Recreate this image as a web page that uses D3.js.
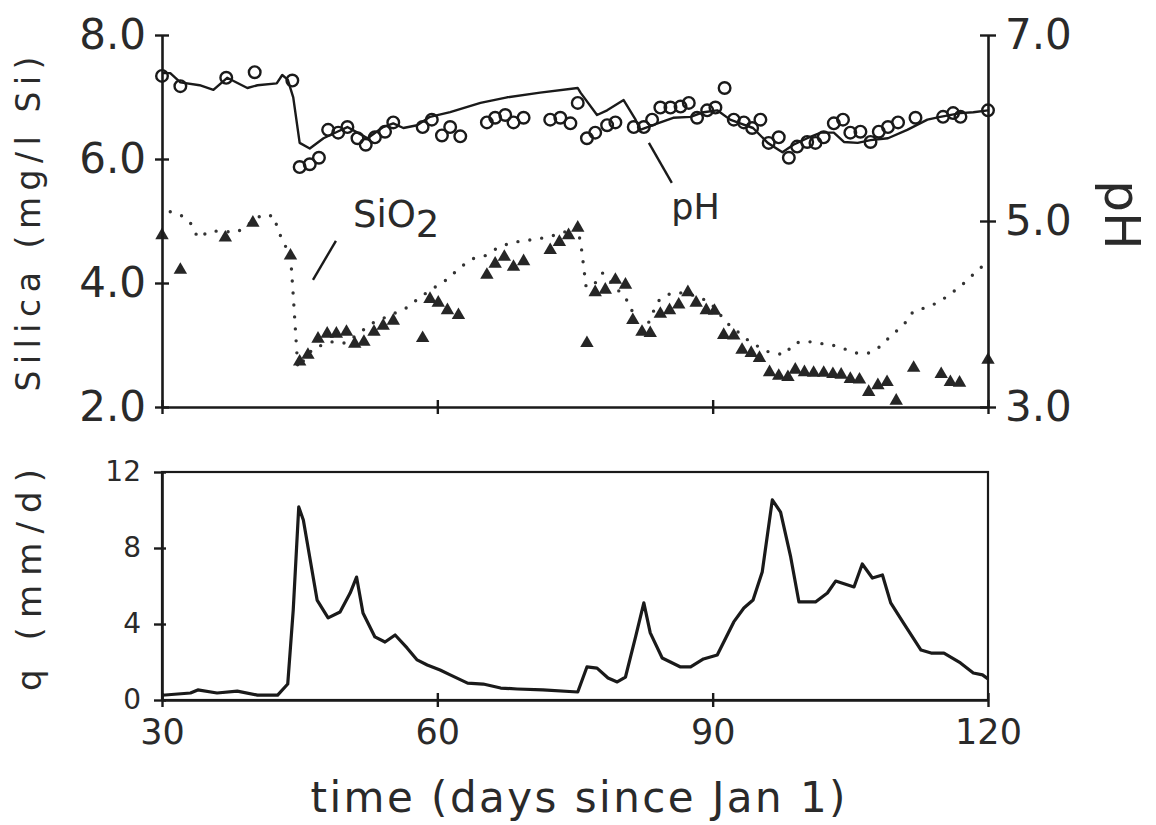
<!DOCTYPE html>
<html lang="en">

<head>
  <title>Silica, pH and discharge</title>
  <meta charset="UTF-8">
  <script src="https://cdn.jsdelivr.net/npm/d3@7"></script>
  <style>
    body { margin: 0; background: #fff; }
    text { font-family: 'DejaVu Sans', sans-serif; fill: #2a2a2a; }
  </style>
</head>

<body>
  <div id="box"></div>
  <script>
    const width = 1156
    const height = 825

    // tick labels
    const dayTicks = [30, 60, 90, 120]
    const siTicks = [2, 4, 6, 8]
    const phTicks = [3, 5, 7]
    const qTicks = [0, 4, 8, 12]

    // pH, model (solid line)
    const phModelDays = [30, 30.9, 32.0, 34.1, 35.6, 37.1, 39.3, 40.4, 42.5, 43.1,
      43.7, 44.3, 45.0, 46.1, 47.6, 49.1, 50.2, 51.3, 52.4, 54.1,
      55.2, 56.3, 57.8, 59.2, 61.4, 64.7, 67.6, 71.2, 75.3, 75.6,
      77.4, 78.5, 80.3, 81.6, 82.1, 84.0, 85.7, 87.6, 89.0, 90.5,
      91.9, 93.0, 94.4, 96.0, 97.6, 98.8, 100.3, 101.8, 103.2, 104.3,
      105.8, 107.2, 109.1, 111.2, 113.4, 114.8, 117.0, 118.4, 120]
    const phModel = [6.59, 6.59, 6.49, 6.46, 6.41, 6.54, 6.43, 6.46, 6.48, 6.57,
      6.52, 6.33, 5.84, 5.78, 5.89, 5.96, 6.01, 5.95, 5.89, 6.01,
      6.05, 6.00, 6.03, 6.12, 6.17, 6.27, 6.33, 6.38, 6.43, 6.38,
      6.14, 6.19, 6.30, 6.09, 5.98, 6.05, 6.11, 6.12, 6.17, 6.19,
      6.09, 6.05, 6.00, 5.84, 5.74, 5.82, 5.89, 5.95, 5.95, 5.85,
      5.84, 5.87, 5.89, 5.98, 6.09, 6.12, 6.16, 6.17, 6.19]

    // pH, measured (circles)
    const phObsDays = [30.0, 32.0, 37.0, 40.1, 44.2, 45.0, 46.1, 47.1, 48.1, 49.2,
      50.2, 51.3, 52.2, 53.2, 54.3, 55.2, 58.4, 59.4, 60.5, 61.4,
      62.5, 65.4, 66.3, 67.4, 68.3, 69.4, 72.3, 73.4, 74.5, 75.3,
      76.3, 77.2, 78.5, 79.4, 81.4, 82.5, 83.4, 84.3, 85.4, 86.5,
      87.4, 88.3, 89.4, 90.3, 91.3, 92.3, 93.4, 94.3, 95.2, 96.1,
      97.2, 98.3, 99.2, 100.3, 101.2, 102.1, 103.2, 104.2, 105.0, 106.1,
      107.2, 108.1, 109.1, 110.2, 112.1, 115.1, 116.2, 117.0, 120.0]
    const phObs = [6.56, 6.45, 6.54, 6.60, 6.51, 5.58, 5.61, 5.68, 5.98, 5.95,
      6.01, 5.89, 5.82, 5.90, 5.96, 6.06, 6.01, 6.09, 5.92, 6.01,
      5.91, 6.06, 6.11, 6.14, 6.06, 6.11, 6.09, 6.11, 6.05, 6.27,
      5.89, 5.95, 6.03, 6.06, 6.01, 6.01, 6.09, 6.22, 6.22, 6.23,
      6.27, 6.11, 6.19, 6.22, 6.43, 6.09, 6.06, 6.00, 6.09, 5.84,
      5.90, 5.68, 5.80, 5.85, 5.84, 5.90, 6.05, 6.09, 5.95, 5.96,
      5.85, 5.96, 6.01, 6.06, 6.11, 6.12, 6.16, 6.12, 6.19]

    // silica, model (dotted line)
    const siModelDays = [30.9, 32.2, 33.2, 33.9, 35.3, 38.2, 40.9, 42.2, 42.6, 43.2,
      44.0, 44.3, 44.8, 46.5, 48.5, 50.0, 52.9, 56.8, 58.1, 59.6,
      61.1, 62.4, 63.8, 65.2, 66.5, 68.0, 69.4, 70.8, 72.1, 75.3,
      75.7, 76.2, 76.9, 78.0, 79.2, 80.9, 82.3, 83.4, 84.2, 85.5,
      86.8, 88.2, 89.7, 91.6, 94.0, 95.8, 97.8, 98.9, 100.2, 101.5,
      103.0, 104.3, 105.7, 107.0, 108.3, 109.5, 110.8, 111.8, 113.1, 114.5,
      115.9, 117.4, 118.7, 120.0]
    const siModel = [5.15, 5.08, 4.95, 4.73, 4.84, 4.82, 5.10, 5.08, 4.87, 4.66,
      4.45, 3.80, 2.63, 2.95, 3.05, 3.03, 3.35, 3.61, 3.77, 3.92,
      4.06, 4.24, 4.39, 4.44, 4.56, 4.65, 4.68, 4.71, 4.74, 4.89,
      4.56, 3.95, 3.94, 4.16, 3.97, 3.68, 3.10, 3.50, 3.73, 3.84,
      3.84, 3.79, 3.69, 3.35, 3.06, 2.90, 2.84, 3.03, 3.06, 3.03,
      3.00, 2.94, 2.87, 2.87, 2.98, 3.16, 3.32, 3.53, 3.60, 3.68,
      3.82, 4.00, 4.18, 4.35]

    // silica, measured (triangles)
    const siObsDays = [30.0, 32.0, 36.9, 39.9, 44.0, 45.0, 45.9, 47.0, 48.0, 49.0,
      50.1, 51.0, 52.0, 53.1, 54.1, 55.2, 58.4, 59.2, 60.1, 61.1,
      62.3, 65.4, 66.3, 67.3, 68.3, 69.4, 72.3, 73.3, 74.3, 75.3,
      76.3, 77.2, 78.3, 79.4, 80.5, 81.3, 82.3, 83.2, 84.3, 85.3,
      86.3, 87.3, 88.2, 89.3, 90.2, 91.2, 92.3, 93.2, 94.2, 95.1,
      96.2, 97.2, 98.2, 99.0, 100.0, 101.0, 102.1, 103.1, 104.0, 105.0,
      106.0, 107.0, 108.0, 109.0, 110.0, 111.9, 114.9, 115.9, 116.9, 120.0]
    const siObs = [4.77, 4.21, 4.73, 4.97, 4.44, 2.73, 2.84, 3.10, 3.18, 3.18,
      3.21, 3.02, 3.05, 3.21, 3.31, 3.39, 3.11, 3.74, 3.68, 3.56,
      3.48, 4.13, 4.31, 4.42, 4.26, 4.35, 4.53, 4.66, 4.77, 4.89,
      3.03, 3.85, 3.89, 4.05, 3.97, 3.40, 3.21, 3.19, 3.50, 3.56,
      3.65, 3.85, 3.68, 3.56, 3.55, 3.16, 3.15, 2.92, 2.87, 2.79,
      2.56, 2.50, 2.48, 2.60, 2.56, 2.55, 2.55, 2.53, 2.52, 2.45,
      2.44, 2.24, 2.35, 2.40, 2.10, 2.63, 2.53, 2.40, 2.39, 2.76]

    // discharge q (mm/d)
    const qDays = [30.0, 33.1, 33.9, 36.0, 38.2, 40.4, 42.6, 43.7, 44.3, 44.9,
      45.4, 46.9, 48.1, 49.4, 50.5, 51.2, 51.9, 53.2, 54.3, 55.4,
      56.7, 57.8, 58.9, 60.3, 61.4, 63.3, 65.0, 66.9, 68.7, 71.5,
      75.3, 76.3, 77.4, 78.6, 79.6, 80.5, 81.6, 82.5, 83.2, 84.5,
      86.5, 87.6, 89.0, 90.5, 92.3, 93.4, 94.4, 95.4, 96.5, 97.4,
      98.5, 99.4, 101.2, 102.5, 103.4, 105.4, 106.3, 107.4, 108.5, 109.4,
      110.8, 112.7, 113.8, 115.2, 117.0, 118.4, 119.4, 120.0]
    const qValues = [0.25, 0.37, 0.53, 0.37, 0.47, 0.26, 0.26, 0.84, 4.74, 10.16,
      9.47, 5.26, 4.32, 4.63, 5.63, 6.47, 4.58, 3.32, 3.05, 3.42,
      2.74, 2.11, 1.84, 1.58, 1.32, 0.89, 0.84, 0.63, 0.58, 0.53,
      0.42, 1.74, 1.68, 1.16, 0.95, 1.21, 3.32, 5.11, 3.53, 2.21,
      1.74, 1.74, 2.16, 2.37, 4.11, 4.84, 5.26, 6.74, 10.53, 9.89,
      7.53, 5.16, 5.16, 5.63, 6.26, 5.95, 7.16, 6.42, 6.58, 5.11,
      4.05, 2.63, 2.47, 2.47, 1.95, 1.42, 1.32, 1.11]

    // layout
    const left = 162
    const right = 988
    const top1 = 35
    const bottom1 = 407
    const top2 = 472
    const bottom2 = 700
    const ink = '#1a1a1a'

    const svg = d3.select('#box').append('svg')
      .attr('width', width)
      .attr('height', height)

    // scales
    const x = d3.scaleLinear().domain([30, 120]).range([left, right])
    const ySi = d3.scaleLinear().domain([2, 8]).range([bottom1, top1])
    const yPh = d3.scaleLinear().domain([3, 7]).range([bottom1, top1])
    const yQ = d3.scaleLinear().domain([0, 12]).range([bottom2, top2])

    // ---------- top panel ----------
    const siLine = d3.line().x(d => x(d[0])).y(d => ySi(d[1]))
    svg.append('path')
      .attr('d', siLine(d3.zip(siModelDays, siModel)))
      .attr('fill', 'none')
      .attr('stroke', '#333')
      .attr('stroke-width', 3.4)
      .attr('stroke-linecap', 'round')
      .attr('stroke-dasharray', '0 12')

    svg.append('g').selectAll('path')
      .data(d3.zip(siObsDays, siObs))
      .join('path')
      .attr('d', d3.symbol(d3.symbolTriangle, 78))
      .attr('transform', d => `translate(${x(d[0])},${ySi(d[1])})`)
      .attr('fill', '#262626')

    const phLine = d3.line().x(d => x(d[0])).y(d => yPh(d[1]))
    svg.append('path')
      .attr('d', phLine(d3.zip(phModelDays, phModel)))
      .attr('fill', 'none')
      .attr('stroke', ink)
      .attr('stroke-width', 2.4)
      .attr('stroke-linejoin', 'round')

    svg.append('g').selectAll('circle')
      .data(d3.zip(phObsDays, phObs))
      .join('circle')
      .attr('cx', d => x(d[0]))
      .attr('cy', d => yPh(d[1]))
      .attr('r', 5.8)
      .attr('fill', 'none')
      .attr('stroke', ink)
      .attr('stroke-width', 2.4)

    function styleAxis(g, size) {
      g.attr('font-family', "'DejaVu Sans', sans-serif").attr('font-size', size)
      g.select('.domain').attr('stroke', ink).attr('stroke-width', 2.6)
      g.selectAll('.tick line').attr('stroke', ink).attr('stroke-width', 2.4)
      g.selectAll('.tick text').attr('fill', '#2a2a2a')
    }

    // left silica axis
    svg.append('g')
      .attr('transform', `translate(${left},0)`)
      .call(d3.axisLeft(ySi).tickValues(siTicks).tickFormat(d3.format('.1f'))
        .tickSize(7).tickSizeOuter(0).tickPadding(9))
      .call(g => styleAxis(g, 42))
      .call(g => g.selectAll('.tick line').attr('x1', 7))

    // right pH axis
    svg.append('g')
      .attr('transform', `translate(${right},0)`)
      .call(d3.axisRight(yPh).tickValues(phTicks).tickFormat(d3.format('.1f'))
        .tickSize(8).tickSizeOuter(0).tickPadding(9))
      .call(g => styleAxis(g, 42))
      .call(g => g.selectAll('.tick line').attr('x1', -8))

    // bottom axis of top panel (no labels)
    svg.append('g')
      .attr('transform', `translate(0,${bottom1})`)
      .call(d3.axisBottom(x).tickValues(dayTicks).tickFormat('')
        .tickSize(7).tickSizeOuter(0))
      .call(g => styleAxis(g, 10))
      .call(g => g.selectAll('.tick line').attr('y1', -7))

    // annotations
    svg.append('line')
      .attr('x1', x(46.45)).attr('y1', ySi(4.05))
      .attr('x2', x(48.95)).attr('y2', ySi(4.68))
      .attr('stroke', ink).attr('stroke-width', 2.4)
    const siLabel = svg.append('text')
      .attr('x', x(50.8)).attr('y', ySi(4.9))
      .attr('font-size', 37)
    siLabel.append('tspan').text('SiO')
    siLabel.append('tspan').attr('dy', 10).text('2')

    svg.append('line')
      .attr('x1', x(83.05)).attr('y1', yPh(5.84))
      .attr('x2', x(85.55)).attr('y2', yPh(5.41))
      .attr('stroke', ink).attr('stroke-width', 2.4)
    svg.append('text')
      .attr('x', x(85.5)).attr('y', yPh(5.02))
      .attr('font-size', 35)
      .text('pH')

    // axis titles of top panel
    svg.append('text')
      .attr('transform', `translate(40,224) rotate(-90)`)
      .attr('text-anchor', 'middle')
      .attr('font-size', 33)
      .attr('textLength', 335)
      .attr('lengthAdjust', 'spacing')
      .text('Silica (mg/l Si)')

    svg.append('text')
      .attr('transform', `translate(1105,215) rotate(90)`)
      .attr('text-anchor', 'middle')
      .attr('font-size', 50)
      .text('pH')

    // ---------- bottom panel ----------
    svg.append('rect')
      .attr('x', left).attr('y', top2)
      .attr('width', right - left).attr('height', bottom2 - top2)
      .attr('fill', 'none')
      .attr('stroke', ink)
      .attr('stroke-width', 2.2)

    const qLine = d3.line().x(d => x(d[0])).y(d => yQ(d[1]))
    svg.append('path')
      .attr('d', qLine(d3.zip(qDays, qValues)))
      .attr('fill', 'none')
      .attr('stroke', ink)
      .attr('stroke-width', 3.2)
      .attr('stroke-linejoin', 'round')

    svg.append('g')
      .attr('transform', `translate(${left},0)`)
      .call(d3.axisLeft(yQ).tickValues(qTicks).tickSize(8).tickSizeOuter(0).tickPadding(13))
      .call(g => styleAxis(g, 28))
      .call(g => g.selectAll('.tick line').attr('x1', 4))

    svg.append('g')
      .attr('transform', `translate(0,${bottom2})`)
      .call(d3.axisBottom(x).tickValues(dayTicks).tickSize(7).tickSizeOuter(0).tickPadding(12))
      .call(g => styleAxis(g, 35))
      .call(g => g.selectAll('.tick line').attr('y1', -7))

    svg.append('text')
      .attr('transform', `translate(41,580) rotate(-90)`)
      .attr('text-anchor', 'middle')
      .attr('font-size', 34)
      .attr('textLength', 222)
      .attr('lengthAdjust', 'spacing')
      .text('q (mm/d)')

    svg.append('text')
      .attr('x', 578).attr('y', 812)
      .attr('text-anchor', 'middle')
      .attr('font-size', 42)
      .attr('textLength', 535)
      .attr('lengthAdjust', 'spacing')
      .text('time (days since Jan 1)')
  </script>
</body>

</html>
